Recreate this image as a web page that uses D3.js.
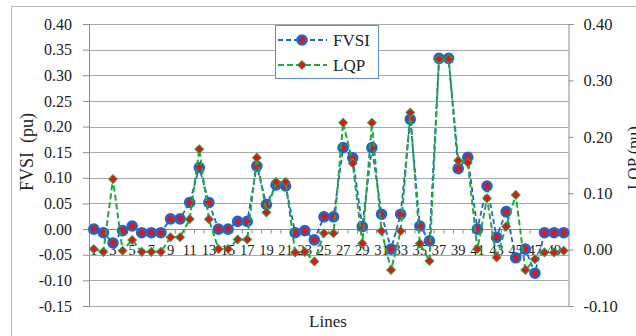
<!DOCTYPE html>
<html>
<head>
<meta charset="utf-8">
<script src="https://cdn.jsdelivr.net/npm/d3@7"></script>
<style>
  html, body { margin: 0; padding: 0; background: #fff; }
  svg, svg text { font-family: "Liberation Serif", "Times New Roman", serif !important; }
</style>
</head>
<body>
<svg id="chart" width="636" height="336"></svg>
<script>
// ---- data ----
const categories = [1,2,3,4,5,6,7,8,9,10,11,12,13,14,15,16,17,18,19,20,21,22,23,24,25,26,27,28,29,30,31,32,33,34,35,36,37,38,39,40,41,42,43,44,45,46,47,48,49,50];
const xTickLabels = [1,3,5,7,9,11,13,15,17,19,21,23,25,27,29,31,33,35,37,39,41,43,45,47,49];
const fvsi = [0.000,-0.007,-0.027,-0.003,0.006,-0.007,-0.007,-0.007,0.020,0.020,
              0.052,0.120,0.052,0.000,0.000,0.015,0.015,0.123,0.048,0.086,
              0.084,-0.007,-0.003,-0.021,0.024,0.024,0.159,0.139,0.005,0.159,
              0.029,-0.039,0.029,0.214,0.006,-0.023,0.333,0.333,0.118,0.140,
              0.000,0.084,-0.016,0.034,-0.056,-0.039,-0.086,-0.007,-0.007,-0.007];
const lqp = [0.001,-0.004,0.125,-0.002,0.017,-0.004,-0.004,-0.004,0.022,0.022,
             0.054,0.178,0.054,0.001,0.001,0.018,0.018,0.163,0.066,0.120,
             0.120,-0.005,-0.004,-0.021,0.029,0.029,0.225,0.153,0.011,0.225,
             0.033,-0.036,0.033,0.243,0.011,-0.020,0.338,0.338,0.158,0.154,
             0.001,0.091,-0.014,0.041,0.097,-0.036,-0.017,-0.005,-0.005,-0.002];
const leftTicks = [-0.15,-0.10,-0.05,0.00,0.05,0.10,0.15,0.20,0.25,0.30,0.35,0.40];
const rightTicks = [-0.10,0.00,0.10,0.20,0.30,0.40];
const seriesNames = ["FVSI", "LQP"];

// ---- layout ----
const svg = d3.select("#chart");
const L = 89, R = 568.5, T = 24, B = 306;
const blue = "#2166c4", green = "#25a640", red = "#e8101a";
const serif = "'Liberation Serif', 'Times New Roman', serif";
const fmt = d3.formatLocale({decimal: ".", thousands: ",", grouping: [3], currency: ["", ""], minus: "-"}).format(".2f");

const x = d3.scaleBand().domain(categories).range([L, R]).padding(0);
const yL = d3.scaleLinear().domain([-0.15, 0.40]).range([B, T]);
const yR = d3.scaleLinear().domain([-0.10, 0.40]).range([B, T]);

// outer border
svg.append("rect").attr("x", 11.5).attr("y", 6.5).attr("width", 640).attr("height", 340)
  .attr("fill", "none").attr("stroke", "#b8b8b8").attr("stroke-width", 1);

// gridlines
svg.append("g").selectAll("line").data(leftTicks).join("line")
  .attr("x1", L).attr("x2", R)
  .attr("y1", d => Math.round(yL(d)) + 0.5).attr("y2", d => Math.round(yL(d)) + 0.5)
  .attr("stroke", "#a9a9a9").attr("stroke-width", 1);

function styleAxis(g, size) {
  g.attr("font-family", null).attr("font-size", null);
  g.selectAll("text").style("font-family", serif).style("font-size", size + "px").attr("fill", "#222");
  g.selectAll("line").attr("stroke", "#8c8c8c");
  g.select(".domain").attr("stroke", "#8c8c8c");
}

// left axis
const gL = svg.append("g").attr("transform", `translate(${L},0)`)
  .call(d3.axisLeft(yL).tickValues(leftTicks).tickFormat(fmt).tickSize(6).tickPadding(11));
styleAxis(gL, 16);

// right axis
const gR = svg.append("g").attr("transform", `translate(${R},0)`)
  .call(d3.axisRight(yR).tickValues(rightTicks).tickFormat(fmt).tickSize(5).tickPadding(10));
styleAxis(gR, 16.5);

// x axis at y = 0 of the left scale
const y0 = Math.round(yL(0)) + 0.5;
svg.append("line").attr("x1", L).attr("x2", R).attr("y1", y0).attr("y2", y0)
  .attr("stroke", "#8c8c8c");
const bounds = categories.map(c => x(c)).concat([x(categories[categories.length - 1]) + x.bandwidth()]);
svg.append("g").selectAll("line").data(bounds).join("line")
  .attr("x1", d => d).attr("x2", d => d).attr("y1", y0).attr("y2", y0 + 4)
  .attr("stroke", "#8c8c8c");
const gX = svg.append("g").attr("transform", `translate(0,${y0})`)
  .call(d3.axisBottom(x).tickValues(xTickLabels).tickSize(0).tickPadding(15));
styleAxis(gX, 14.5);
gX.select(".domain").remove();

// axis titles
svg.append("text").attr("transform", "translate(33,152) rotate(-90)")
  .attr("text-anchor", "middle").style("font-size", "18px").attr("fill", "#222")
  .style("white-space", "pre").text("FVSI  (pu)");
svg.append("text").attr("transform", "translate(639,158) rotate(-90)")
  .attr("text-anchor", "middle").style("font-size", "17px").attr("fill", "#222")
  .style("white-space", "pre").text("LQP (pu)");
svg.append("text").attr("x", 328).attr("y", 327).attr("text-anchor", "middle")
  .style("font-size", "17px").attr("fill", "#222").text("Lines");

const cx = c => x(c) + x.bandwidth() / 2;

// FVSI series
const lineF = d3.line().x((d, i) => cx(categories[i])).y(d => yL(d));
svg.append("path").datum(fvsi).attr("d", lineF).attr("fill", "none")
  .attr("stroke", blue).attr("stroke-width", 1.8).attr("stroke-dasharray", "5,3");
svg.append("g").selectAll("circle").data(fvsi).join("circle")
  .attr("cx", (d, i) => cx(categories[i])).attr("cy", d => yL(d)).attr("r", 4.4)
  .attr("fill", red).attr("stroke", blue).attr("stroke-width", 2.8);

// LQP series
const lineQ = d3.line().x((d, i) => cx(categories[i])).y(d => yR(d));
svg.append("path").datum(lqp).attr("d", lineQ).attr("fill", "none")
  .attr("stroke", green).attr("stroke-width", 2).attr("stroke-dasharray", "6,3");
const sq = d3.symbol().type(d3.symbolSquare).size(38);
svg.append("g").selectAll("path").data(lqp).join("path")
  .attr("transform", (d, i) => `translate(${cx(categories[i])},${yR(d)}) rotate(45)`)
  .attr("d", sq)
  .attr("fill", red).attr("stroke", green).attr("stroke-width", 1);

// legend
const lg = svg.append("g");
lg.append("rect").attr("x", 275.5).attr("y", 25.5).attr("width", 103).attr("height", 53)
  .attr("fill", "#fff").attr("stroke", "#5b8fd0").attr("stroke-width", 1);
const legendRows = [
  {name: seriesNames[0], y: 40, color: blue, dash: "5,3"},
  {name: seriesNames[1], y: 65, color: green, dash: "6,3"}
];
legendRows.forEach((r, k) => {
  lg.append("line").attr("x1", 278).attr("x2", 327).attr("y1", r.y).attr("y2", r.y)
    .attr("stroke", r.color).attr("stroke-width", 2).attr("stroke-dasharray", r.dash);
  if (k === 0) {
    lg.append("circle").attr("cx", 302).attr("cy", r.y).attr("r", 4.4)
      .attr("fill", red).attr("stroke", blue).attr("stroke-width", 2.8);
  } else {
    lg.append("path").attr("transform", `translate(302,${r.y}) rotate(45)`)
      .attr("d", sq)
      .attr("fill", red).attr("stroke", green).attr("stroke-width", 1);
  }
  lg.append("text").attr("x", 333).attr("y", r.y + 6).style("font-size", "17px")
    .attr("fill", "#222").text(r.name);
});
</script>
</body>
</html>
